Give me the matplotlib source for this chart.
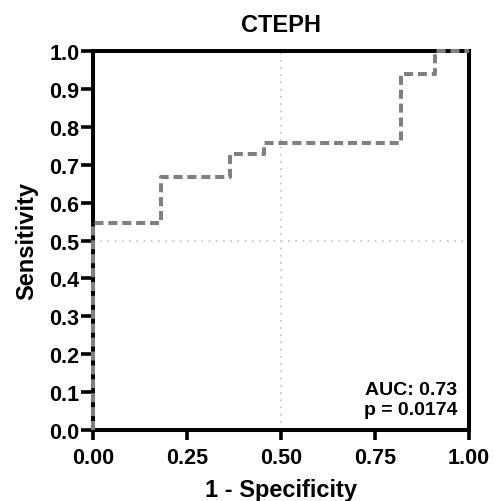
import matplotlib
matplotlib.use("Agg")
import matplotlib.pyplot as plt

plt.rcParams['font.family'] = ['Liberation Sans', 'DejaVu Sans']
plt.rcParams['font.weight'] = 'bold'

fpr = [0.0, 0.0, 2/11, 2/11, 4/11, 4/11, 5/11, 5/11, 9/11, 9/11, 10/11, 10/11, 1.0]
tpr = [0.0, 18/33, 18/33, 22/33, 22/33, 24/33, 24/33, 25/33, 25/33, 31/33, 31/33, 1.0, 1.0]
xticks = [0.0, 0.25, 0.5, 0.75, 1.0]
xticklabels = ["0.00", "0.25", "0.50", "0.75", "1.00"]
yticks = [i / 10 for i in range(11)]
yticklabels = [f"{v:.1f}" for v in yticks]
title = "CTEPH"
auc_text = "AUC: 0.73"
p_text = "p = 0.0174"

W, H = 495, 502
L, R, T, B = 93, 469, 52, 431
SX = R - L
SY = B - T

fig = plt.figure(figsize=(W / 100, H / 100), dpi=100)
ax = fig.add_axes([L / W, 1 - B / H, (R - L) / W, (B - T) / H])

ax.axvline(0.5, color='#c8c8c8', lw=1.3, ls=(0, (1, 3)), zorder=1)
ax.axhline(0.5, color='#c8c8c8', lw=1.3, ls=(0, (1, 3)), zorder=1)

ax.plot(fpr, tpr, color='#808080', lw=2.9, ls=(0, (2.25, 1.2)),
        solid_capstyle='butt', dash_capstyle='butt', clip_on=False, zorder=3)

ax.set_xlim(0, 1)
ax.set_ylim(0, 1)
ax.set_xticks(xticks)
ax.set_xticklabels(xticklabels)
ax.set_yticks(yticks)
ax.set_yticklabels(yticklabels)
for s in ax.spines.values():
    s.set_linewidth(2.9)
ax.tick_params(direction='out', width=2.6, labelsize=15.5)
ax.tick_params(axis='x', length=7, pad=5)
ax.tick_params(axis='y', length=9, pad=0.7)
for lbl in ax.get_xticklabels() + ax.get_yticklabels():
    lbl.set_fontweight('bold')

ax.set_xlabel("1 - Specificity", fontsize=17, fontweight='bold')
ax.xaxis.label.set_va('baseline')
ax.xaxis.set_label_coords(0.5, -(497 - B) / SY)
ax.set_ylabel("Sensitivity", fontsize=17, fontweight='bold')
ax.yaxis.set_label_coords((38 - L) / SX, 0.5)

ax.text(0.5, 1 + (T - 32) / SY, title, transform=ax.transAxes, ha='center',
        va='baseline', fontsize=17, fontweight='bold')

ax.text((457 - L) / SX, (B - 395) / SY, auc_text, transform=ax.transAxes,
        ha='right', va='baseline', fontsize=14, fontweight='bold')
ax.text((457 - L) / SX, (B - 415) / SY, p_text, transform=ax.transAxes,
        ha='right', va='baseline', fontsize=14, fontweight='bold')

fig.savefig("out.png", dpi=100)
